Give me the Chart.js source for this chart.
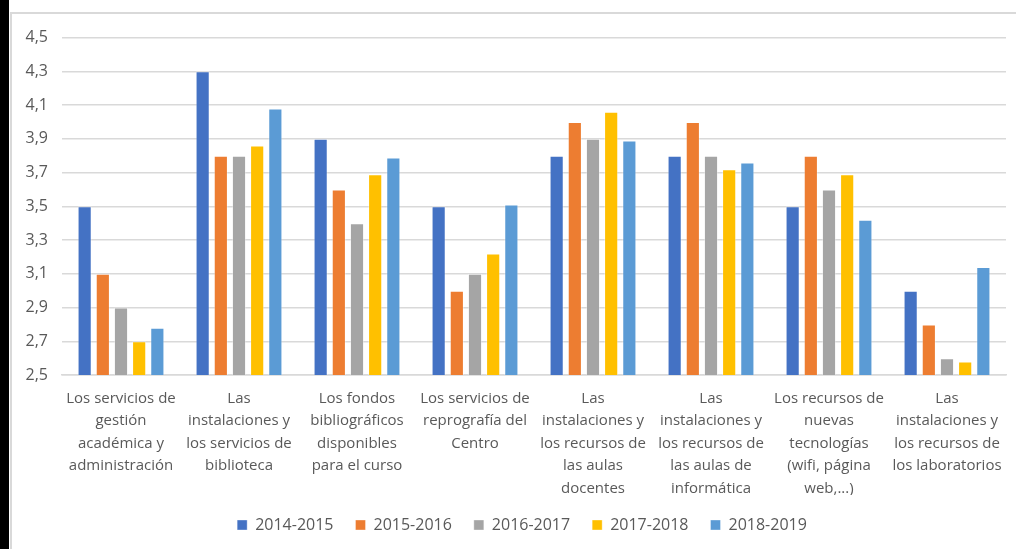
<!DOCTYPE html>
<html>
<head>
<meta charset="utf-8">
<script src="https://cdn.jsdelivr.net/npm/chart.js@4.4.1/dist/chart.umd.min.js"></script>
<style>
  html, body { margin: 0; padding: 0; background: #fff; width: 1016px; height: 549px; overflow: hidden; }
  #strip { position: absolute; left: 0; top: 0; width: 9px; height: 549px; background: #000; }
  #frame { position: absolute; left: 10px; top: 12px; width: 1006px; height: 537px;
           border-top: 2px solid #d9d9d9; border-left: 2px solid #d9d9d9; box-sizing: border-box; }
  #wrap { position: absolute; left: 12px; top: 14px; width: 1004px; height: 535px; }
</style>
</head>
<body>
<div id="strip"></div>
<div id="frame"></div>
<div id="wrap"><canvas id="c"></canvas></div>
<script>
const categories = [
  ["Los servicios de", "gestión", "académica y", "administración"],
  ["Las", "instalaciones y", "los servicios de", "biblioteca"],
  ["Los fondos", "bibliográficos", "disponibles", "para el curso"],
  ["Los servicios de", "reprografía del", "Centro"],
  ["Las", "instalaciones y", "los recursos de", "las aulas", "docentes"],
  ["Las", "instalaciones y", "los recursos de", "las aulas de", "informática"],
  ["Los recursos de", "nuevas", "tecnologías", "(wifi, página", "web,...)"],
  ["Las", "instalaciones y", "los recursos de", "los laboratorios"]
];
const seriesNames = ["2014-2015", "2015-2016", "2016-2017", "2017-2018", "2018-2019"];
const s2014 = [3.5, 4.3, 3.9, 3.5, 3.8, 3.8, 3.5, 3.0];
const s2015 = [3.1, 3.8, 3.6, 3.0, 4.0, 4.0, 3.8, 2.8];
const s2016 = [2.9, 3.8, 3.4, 3.1, 3.9, 3.8, 3.6, 2.6];
const s2017 = [2.7, 3.86, 3.69, 3.22, 4.06, 3.72, 3.69, 2.58];
const s2018 = [2.78, 4.08, 3.79, 3.51, 3.89, 3.76, 3.42, 3.14];
const yTicks = [2.5, 2.7, 2.9, 3.1, 3.3, 3.5, 3.7, 3.9, 4.1, 4.3, 4.5];

const colors = ["#4472C4", "#ED7D31", "#A5A5A5", "#FFC000", "#5B9BD5"];
const allSeries = [s2014, s2015, s2016, s2017, s2018];

const legendShift = {
  id: 'legendShift',
  afterLayout(chart) {
    if (chart.legend) { chart.legend.left += 13; chart.legend.right += 13; }
  }
};

new Chart(document.getElementById('c'), {
  type: 'bar',
  data: {
    labels: categories,
    datasets: allSeries.map((d, i) => ({
      label: seriesNames[i],
      data: d,
      backgroundColor: colors[i],
      borderColor: 'rgba(255,255,255,0.35)',
      borderWidth: 1,
      categoryPercentage: 0.77,
      barPercentage: 0.78
    }))
  },
  plugins: [legendShift],
  options: {
    responsive: true,
    maintainAspectRatio: false,
    animation: false,
    layout: { padding: { top: 20, right: 10, left: 0, bottom: 6 } },
    scales: {
      x: {
        grid: { display: false, drawTicks: false },
        border: { display: true, color: '#d9d9d9', width: 1.5 },
        ticks: {
          color: '#595959',
          font: { family: 'Open Sans', size: 15, lineHeight: 1.5 },
          maxRotation: 0, autoSkip: false, padding: 12
        },
        afterFit: s => { s.height = 120; }
      },
      y: {
        min: 2.5, max: 4.5,
        afterBuildTicks: s => { s.ticks = yTicks.map(v => ({ value: v })); },
        grid: { color: '#d9d9d9', lineWidth: 1.5, drawTicks: false },
        border: { display: false },
        ticks: {
          color: '#595959',
          font: { family: 'Open Sans', size: 16 },
          padding: 14,
          callback: v => Number(v).toFixed(1).replace('.', ',')
        },
        afterFit: s => { s.width = 50; }
      }
    },
    plugins: {
      legend: {
        position: 'bottom',
        labels: {
          color: '#595959',
          font: { family: 'Open Sans', size: 16 },
          boxWidth: 10, boxHeight: 10, padding: 22
        }
      },
      tooltip: { enabled: false }
    }
  }
});
</script>
</body>
</html>
